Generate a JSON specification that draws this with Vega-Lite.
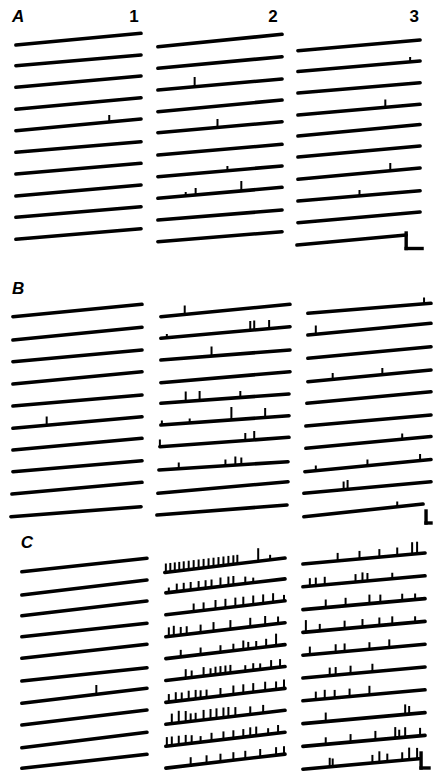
{
  "$schema": "https://vega.github.io/schema/vega-lite/v6.json",
  "width": 434,
  "height": 774,
  "padding": 0,
  "autosize": {"type": "fit", "contains": "padding"},
  "background": "white",
  "config": {"view": {"stroke": null}},
  "datasets": {
    "traces": [
      {"p":"A1","t":1,"x":16,"x2":142,"y":45,"y2":33.3},
      {"p":"A1","t":2,"x":16,"x2":142,"y":65.7,"y2":55},
      {"p":"A1","t":3,"x":16,"x2":142,"y":87.3,"y2":76},
      {"p":"A1","t":4,"x":16,"x2":142,"y":109.3,"y2":97.7},
      {"p":"A1","t":5,"x":16,"x2":142,"y":130.7,"y2":119},
      {"p":"A1","t":6,"x":16,"x2":142,"y":152.3,"y2":141.7},
      {"p":"A1","t":7,"x":16,"x2":142,"y":174,"y2":163.3},
      {"p":"A1","t":8,"x":16,"x2":142,"y":196,"y2":185},
      {"p":"A1","t":9,"x":16,"x2":142,"y":217.3,"y2":206.7},
      {"p":"A1","t":10,"x":16,"x2":142,"y":239.3,"y2":228.7},
      {"p":"A2","t":1,"x":159,"x2":284,"y":46.7,"y2":34.3},
      {"p":"A2","t":2,"x":159,"x2":284,"y":68.3,"y2":56.7},
      {"p":"A2","t":3,"x":159,"x2":284,"y":90,"y2":79},
      {"p":"A2","t":4,"x":159,"x2":284,"y":111.7,"y2":100},
      {"p":"A2","t":5,"x":159,"x2":284,"y":132.7,"y2":121.7},
      {"p":"A2","t":6,"x":159,"x2":284,"y":155,"y2":144.3},
      {"p":"A2","t":7,"x":159,"x2":284,"y":176.7,"y2":166},
      {"p":"A2","t":8,"x":159,"x2":284,"y":198.3,"y2":187.3},
      {"p":"A2","t":9,"x":159,"x2":284,"y":220,"y2":210},
      {"p":"A2","t":10,"x":159,"x2":284,"y":241.7,"y2":231.7},
      {"p":"A3","t":1,"x":300,"x2":423,"y":50.7,"y2":40},
      {"p":"A3","t":2,"x":300,"x2":423,"y":71.5,"y2":61},
      {"p":"A3","t":3,"x":300,"x2":423,"y":93,"y2":82.7},
      {"p":"A3","t":4,"x":300,"x2":423,"y":115,"y2":104.3},
      {"p":"A3","t":5,"x":300,"x2":423,"y":136,"y2":124.5},
      {"p":"A3","t":6,"x":300,"x2":423,"y":157,"y2":146},
      {"p":"A3","t":7,"x":300,"x2":423,"y":179.3,"y2":168},
      {"p":"A3","t":8,"x":300,"x2":423,"y":201,"y2":190.7},
      {"p":"A3","t":9,"x":300,"x2":423,"y":222.7,"y2":212},
      {"p":"A3","t":10,"x":299,"x2":409,"y":245,"y2":235},
      {"p":"B1","t":1,"x":13,"x2":143,"y":316.7,"y2":304.3},
      {"p":"B1","t":2,"x":13,"x2":143,"y":340,"y2":327.3},
      {"p":"B1","t":3,"x":13,"x2":143,"y":361.7,"y2":350},
      {"p":"B1","t":4,"x":13,"x2":143,"y":384,"y2":371.7},
      {"p":"B1","t":5,"x":13,"x2":143,"y":406,"y2":395},
      {"p":"B1","t":6,"x":13,"x2":143,"y":428.3,"y2":416.7},
      {"p":"B1","t":7,"x":13,"x2":143,"y":450,"y2":438.3},
      {"p":"B1","t":8,"x":13,"x2":143,"y":471.7,"y2":460.7},
      {"p":"B1","t":9,"x":12,"x2":143,"y":494,"y2":482.3},
      {"p":"B1","t":10,"x":11,"x2":142,"y":516.7,"y2":506.7},
      {"p":"B2","t":1,"x":162,"x2":292,"y":316.7,"y2":304.3},
      {"p":"B2","t":2,"x":162,"x2":292,"y":338.3,"y2":326.7},
      {"p":"B2","t":3,"x":162,"x2":292,"y":360,"y2":350},
      {"p":"B2","t":4,"x":162,"x2":292,"y":382.7,"y2":371.7},
      {"p":"B2","t":5,"x":162,"x2":291,"y":403.3,"y2":394},
      {"p":"B2","t":6,"x":162,"x2":291,"y":425,"y2":415.7},
      {"p":"B2","t":7,"x":161,"x2":291,"y":446.7,"y2":437.3},
      {"p":"B2","t":8,"x":160,"x2":290,"y":470,"y2":461.7},
      {"p":"B2","t":9,"x":159,"x2":290,"y":493.3,"y2":481.7},
      {"p":"B2","t":10,"x":158,"x2":289,"y":515,"y2":505},
      {"p":"B3","t":1,"x":310,"x2":434,"y":313.3,"y2":303.3},
      {"p":"B3","t":2,"x":310,"x2":434,"y":335,"y2":323.3},
      {"p":"B3","t":3,"x":310,"x2":434,"y":358.3,"y2":346.7},
      {"p":"B3","t":4,"x":310,"x2":434,"y":381.7,"y2":370},
      {"p":"B3","t":5,"x":309,"x2":434,"y":403.3,"y2":391.7},
      {"p":"B3","t":6,"x":308,"x2":434,"y":426,"y2":415},
      {"p":"B3","t":7,"x":308,"x2":434,"y":448.3,"y2":436.5},
      {"p":"B3","t":8,"x":307,"x2":434,"y":471.7,"y2":459.5},
      {"p":"B3","t":9,"x":306,"x2":434,"y":493.3,"y2":481.7},
      {"p":"B3","t":10,"x":306,"x2":426,"y":516.7,"y2":504},
      {"p":"C1","t":1,"x":22,"x2":148,"y":571.7,"y2":558.3},
      {"p":"C1","t":2,"x":22,"x2":148,"y":595,"y2":580},
      {"p":"C1","t":3,"x":22,"x2":148,"y":615.7,"y2":601},
      {"p":"C1","t":4,"x":22,"x2":148,"y":636.7,"y2":623.3},
      {"p":"C1","t":5,"x":22,"x2":148,"y":658.3,"y2":644.3},
      {"p":"C1","t":6,"x":22,"x2":148,"y":681,"y2":667.7},
      {"p":"C1","t":7,"x":22,"x2":148,"y":703.3,"y2":688.3},
      {"p":"C1","t":8,"x":22,"x2":148,"y":725,"y2":710},
      {"p":"C1","t":9,"x":22,"x2":148,"y":747.7,"y2":732.3},
      {"p":"C1","t":10,"x":22,"x2":148,"y":768.3,"y2":754.3},
      {"p":"C2","t":1,"x":166,"x2":287,"y":572.5,"y2":558},
      {"p":"C2","t":2,"x":167,"x2":287,"y":592.9,"y2":578.9},
      {"p":"C2","t":3,"x":167,"x2":287,"y":614.8,"y2":600.8},
      {"p":"C2","t":4,"x":167,"x2":287,"y":636.7,"y2":622.7},
      {"p":"C2","t":5,"x":167,"x2":287,"y":658.6,"y2":644.6},
      {"p":"C2","t":6,"x":167,"x2":287,"y":680.5,"y2":666.5},
      {"p":"C2","t":7,"x":167,"x2":287,"y":702.4,"y2":688.4},
      {"p":"C2","t":8,"x":167,"x2":287,"y":724.3,"y2":710.3},
      {"p":"C2","t":9,"x":167,"x2":287,"y":746.2,"y2":732.2},
      {"p":"C2","t":10,"x":167,"x2":287,"y":768.1,"y2":754.1},
      {"p":"C3","t":1,"x":305,"x2":428,"y":564,"y2":553},
      {"p":"C3","t":2,"x":305,"x2":428,"y":586.8,"y2":575.8},
      {"p":"C3","t":3,"x":305,"x2":428,"y":609.6,"y2":598.6},
      {"p":"C3","t":4,"x":305,"x2":428,"y":632.4,"y2":621.4},
      {"p":"C3","t":5,"x":305,"x2":428,"y":655.2,"y2":644.2},
      {"p":"C3","t":6,"x":305,"x2":428,"y":678,"y2":667},
      {"p":"C3","t":7,"x":305,"x2":428,"y":700.8,"y2":689.8},
      {"p":"C3","t":8,"x":305,"x2":428,"y":723.6,"y2":712.6},
      {"p":"C3","t":9,"x":305,"x2":428,"y":746.4,"y2":735.4},
      {"p":"C3","t":10,"x":305,"x2":422,"y":769.2,"y2":758.7}
    ],
    "spikes": [
      {"x":110,"y":122,"y2":115},
      {"x":196,"y":86.7,"y2":77},
      {"x":219,"y":127.4,"y2":119},
      {"x":229,"y":170.7,"y2":166},
      {"x":187,"y":195.8,"y2":192},
      {"x":197,"y":195,"y2":188},
      {"x":243,"y":190.9,"y2":181},
      {"x":413,"y":62.3,"y2":57},
      {"x":388,"y":107.3,"y2":99.5},
      {"x":393,"y":170.5,"y2":163},
      {"x":362,"y":195.8,"y2":190},
      {"x":47,"y":425.3,"y2":416.5},
      {"x":186,"y":314.4,"y2":305.5},
      {"x":168,"y":337.8,"y2":334},
      {"x":252,"y":330.3,"y2":321},
      {"x":256,"y":329.9,"y2":320.5},
      {"x":271,"y":328.6,"y2":320},
      {"x":213,"y":356.1,"y2":346.5},
      {"x":187,"y":401.5,"y2":391.5},
      {"x":201,"y":400.5,"y2":391},
      {"x":242,"y":397.6,"y2":391},
      {"x":163,"y":425,"y2":420.5},
      {"x":191,"y":422.9,"y2":418.5},
      {"x":233,"y":419.9,"y2":407},
      {"x":267,"y":417.5,"y2":408},
      {"x":161,"y":446.7,"y2":439.5},
      {"x":247,"y":440.6,"y2":433},
      {"x":256,"y":439.9,"y2":431},
      {"x":180,"y":468.9,"y2":462.5},
      {"x":227,"y":465.9,"y2":459.5},
      {"x":237,"y":465.2,"y2":456.5},
      {"x":243,"y":464.8,"y2":457.5},
      {"x":427,"y":303.9,"y2":297.5},
      {"x":318,"y":334.2,"y2":325.5},
      {"x":335,"y":379.4,"y2":373},
      {"x":385,"y":374.6,"y2":368},
      {"x":405,"y":439.3,"y2":433.5},
      {"x":318,"y":470.9,"y2":465.5},
      {"x":370,"y":465.8,"y2":459.5},
      {"x":423,"y":460.6,"y2":454},
      {"x":346,"y":489.9,"y2":481.5},
      {"x":350,"y":489.6,"y2":480},
      {"x":400,"y":507,"y2":501.5},
      {"x":97,"y":694.4,"y2":685},
      {"x":167,"y":572.5,"y2":563.5},
      {"x":171.5,"y":571.95,"y2":562.95},
      {"x":176,"y":571.4,"y2":562.4},
      {"x":180.5,"y":570.9,"y2":561.9},
      {"x":185,"y":570.3,"y2":561.3},
      {"x":190,"y":569.7,"y2":560.7},
      {"x":195,"y":569.1,"y2":560.1},
      {"x":200,"y":568.5,"y2":559.5},
      {"x":205,"y":567.9,"y2":558.9},
      {"x":210,"y":567.3,"y2":558.3},
      {"x":215,"y":566.7,"y2":557.7},
      {"x":220,"y":566.1,"y2":557.1},
      {"x":225,"y":565.5,"y2":556.5},
      {"x":230,"y":564.9,"y2":555.9},
      {"x":235,"y":564.3,"y2":555.3},
      {"x":239,"y":563.8,"y2":554.8},
      {"x":260,"y":561.2,"y2":548.2},
      {"x":272,"y":559.8,"y2":554.8},
      {"x":170,"y":592.55,"y2":587.55},
      {"x":178,"y":591.6,"y2":583.6},
      {"x":185,"y":590.8,"y2":582.8},
      {"x":192,"y":590,"y2":582},
      {"x":200,"y":589.05,"y2":581.05},
      {"x":207,"y":588.2,"y2":580.2},
      {"x":213,"y":587.5,"y2":579.5},
      {"x":222,"y":586.5,"y2":577.5},
      {"x":230,"y":585.55,"y2":576.55},
      {"x":235,"y":585,"y2":576},
      {"x":247,"y":583.6,"y2":576.6},
      {"x":255,"y":582.6,"y2":577.6},
      {"x":195,"y":611.5,"y2":603.5},
      {"x":205,"y":610.4,"y2":602.4},
      {"x":217,"y":609,"y2":600},
      {"x":227,"y":607.8,"y2":598.8},
      {"x":237,"y":606.6,"y2":597.6},
      {"x":245,"y":605.7,"y2":596.7},
      {"x":255,"y":604.5,"y2":595.5},
      {"x":265,"y":603.4,"y2":594.4},
      {"x":275,"y":602.2,"y2":593.2},
      {"x":286,"y":600.9,"y2":594.9},
      {"x":170,"y":636.35,"y2":627.35},
      {"x":175,"y":635.8,"y2":625.8},
      {"x":182,"y":634.95,"y2":626.95},
      {"x":188,"y":634.25,"y2":626.25},
      {"x":202,"y":632.6,"y2":624.6},
      {"x":215,"y":631.1,"y2":622.1},
      {"x":232,"y":629.1,"y2":620.1},
      {"x":252,"y":626.8,"y2":617.8},
      {"x":267,"y":625,"y2":616},
      {"x":280,"y":623.5,"y2":616.5},
      {"x":182,"y":656.85,"y2":649.85},
      {"x":202,"y":654.5,"y2":647.5},
      {"x":222,"y":652.2,"y2":645.2},
      {"x":235,"y":650.7,"y2":643.7},
      {"x":245,"y":649.5,"y2":640.5},
      {"x":250,"y":648.9,"y2":641.9},
      {"x":258,"y":648,"y2":641},
      {"x":268,"y":646.8,"y2":638.8},
      {"x":278,"y":645.65,"y2":633.65},
      {"x":187,"y":678.2,"y2":669.2},
      {"x":193,"y":677.5,"y2":670.5},
      {"x":205,"y":676.1,"y2":667.1},
      {"x":212,"y":675.25,"y2":668.25},
      {"x":217,"y":674.7,"y2":666.7},
      {"x":222,"y":674.1,"y2":666.1},
      {"x":227,"y":673.5,"y2":665.5},
      {"x":232,"y":672.9,"y2":664.9},
      {"x":247,"y":671.2,"y2":665.2},
      {"x":255,"y":670.2,"y2":663.2},
      {"x":262,"y":669.4,"y2":663.4},
      {"x":273,"y":668.1,"y2":660.1},
      {"x":282,"y":667.1,"y2":659.1},
      {"x":170,"y":702.05,"y2":694.05},
      {"x":177,"y":701.2,"y2":692.2},
      {"x":183,"y":700.5,"y2":692.5},
      {"x":190,"y":699.7,"y2":690.7},
      {"x":197,"y":698.9,"y2":689.9},
      {"x":202,"y":698.3,"y2":690.3},
      {"x":208,"y":697.6,"y2":689.6},
      {"x":222,"y":696,"y2":688},
      {"x":235,"y":694.5,"y2":685.5},
      {"x":245,"y":693.3,"y2":684.3},
      {"x":255,"y":692.1,"y2":683.1},
      {"x":267,"y":690.7,"y2":681.7},
      {"x":278,"y":689.45,"y2":681.45},
      {"x":286,"y":688.5,"y2":679.5},
      {"x":173,"y":723.6,"y2":713.6},
      {"x":180,"y":722.8,"y2":710.8},
      {"x":187,"y":722,"y2":711},
      {"x":192,"y":721.4,"y2":713.4},
      {"x":197,"y":720.8,"y2":712.8},
      {"x":205,"y":719.9,"y2":709.9},
      {"x":212,"y":719.05,"y2":709.05},
      {"x":218,"y":718.35,"y2":708.35},
      {"x":225,"y":717.5,"y2":707.5},
      {"x":230,"y":716.95,"y2":706.95},
      {"x":237,"y":716.1,"y2":707.1},
      {"x":252,"y":714.4,"y2":706.4},
      {"x":265,"y":712.9,"y2":704.9},
      {"x":168,"y":746.1,"y2":737.1},
      {"x":173,"y":745.5,"y2":736.5},
      {"x":180,"y":744.7,"y2":735.7},
      {"x":187,"y":743.9,"y2":734.9},
      {"x":193,"y":743.2,"y2":735.2},
      {"x":202,"y":742.1,"y2":736.1},
      {"x":213,"y":740.8,"y2":732.8},
      {"x":225,"y":739.4,"y2":731.4},
      {"x":235,"y":738.3,"y2":730.3},
      {"x":245,"y":737.1,"y2":729.1},
      {"x":252,"y":736.3,"y2":727.3},
      {"x":258,"y":735.6,"y2":726.6},
      {"x":270,"y":734.2,"y2":728.2},
      {"x":280,"y":733,"y2":725},
      {"x":192,"y":765.2,"y2":757.2},
      {"x":208,"y":763.3,"y2":755.3},
      {"x":222,"y":761.7,"y2":753.7},
      {"x":235,"y":760.2,"y2":752.2},
      {"x":247,"y":758.8,"y2":750.8},
      {"x":262,"y":757,"y2":749},
      {"x":278,"y":755.15,"y2":747.15},
      {"x":286,"y":754.2,"y2":746.2},
      {"x":340,"y":560.9,"y2":552.9},
      {"x":362,"y":558.9,"y2":550.9},
      {"x":382,"y":557.1,"y2":549.1},
      {"x":400,"y":555.5,"y2":547.5},
      {"x":415,"y":554.2,"y2":542.2},
      {"x":420,"y":553.7,"y2":541.7},
      {"x":312,"y":586.2,"y2":578.2},
      {"x":318,"y":585.6,"y2":577.6},
      {"x":327,"y":584.8,"y2":576.8},
      {"x":358,"y":582.1,"y2":574.1},
      {"x":365,"y":581.4,"y2":572.4},
      {"x":370,"y":581,"y2":573},
      {"x":395,"y":578.75,"y2":572.75},
      {"x":328,"y":607.5,"y2":599.5},
      {"x":348,"y":605.8,"y2":597.8},
      {"x":372,"y":603.6,"y2":594.6},
      {"x":383,"y":602.6,"y2":594.6},
      {"x":405,"y":600.7,"y2":593.7},
      {"x":418,"y":599.5,"y2":593.5},
      {"x":308,"y":632.1,"y2":620.1},
      {"x":322,"y":630.9,"y2":623.9},
      {"x":347,"y":628.65,"y2":620.65},
      {"x":365,"y":627.05,"y2":619.05},
      {"x":382,"y":625.5,"y2":617.5},
      {"x":395,"y":624.35,"y2":616.35},
      {"x":418,"y":622.3,"y2":616.3},
      {"x":312,"y":654.6,"y2":646.6},
      {"x":338,"y":652.25,"y2":644.25},
      {"x":347,"y":651.45,"y2":643.45},
      {"x":372,"y":649.2,"y2":642.2},
      {"x":392,"y":647.4,"y2":639.4},
      {"x":332,"y":675.6,"y2":667.6},
      {"x":338,"y":675.05,"y2":667.05},
      {"x":353,"y":673.7,"y2":665.7},
      {"x":375,"y":671.75,"y2":663.75},
      {"x":318,"y":699.6,"y2":691.6},
      {"x":327,"y":698.8,"y2":689.8},
      {"x":337,"y":697.9,"y2":689.9},
      {"x":352,"y":696.6,"y2":688.6},
      {"x":372,"y":694.8,"y2":685.8},
      {"x":328,"y":721.55,"y2":712.55},
      {"x":408,"y":714.4,"y2":704.4},
      {"x":412,"y":714,"y2":706},
      {"x":328,"y":744.3,"y2":737.3},
      {"x":353,"y":742.1,"y2":734.1},
      {"x":378,"y":739.9,"y2":730.9},
      {"x":398,"y":738.1,"y2":727.1},
      {"x":402,"y":737.7,"y2":729.7},
      {"x":408,"y":737.2,"y2":727.2},
      {"x":423,"y":735.85,"y2":727.85},
      {"x":332,"y":766.8,"y2":757.8},
      {"x":335,"y":766.5,"y2":758.5},
      {"x":375,"y":762.9,"y2":754.9},
      {"x":382,"y":762.3,"y2":751.3},
      {"x":390,"y":761.6,"y2":753.6},
      {"x":405,"y":760.3,"y2":752.3},
      {"x":412,"y":759.6,"y2":747.6},
      {"x":420,"y":758.9,"y2":747.9}
    ],
    "bars": [
      {"s":"A","x":409,"x2":409,"y":233,"y2":248.5},
      {"s":"A","x":409,"x2":425,"y":248.5,"y2":248.5},
      {"s":"B","x":429,"x2":429,"y":511,"y2":523},
      {"s":"B","x":429,"x2":434,"y":523,"y2":523},
      {"s":"C","x":424,"x2":424,"y":753,"y2":768},
      {"s":"C","x":424,"x2":432,"y":768,"y2":768}
    ],
    "letters": [
      {"t":"A","x":12,"y":22},
      {"t":"B","x":12,"y":294},
      {"t":"C","x":21,"y":548}
    ],
    "numbers": [
      {"t":"1","x":135,"y":22},
      {"t":"2","x":275,"y":22},
      {"t":"3","x":417,"y":22}
    ]
  },
  "layer": [
    {
      "data": {"name": "traces"},
      "mark": {"type": "rule", "color": "black", "strokeWidth": 3.6, "strokeCap": "round"},
      "encoding": {
        "x": {"field": "x", "type": "quantitative", "scale": {"domain": [0, 434], "nice": false, "zero": false}, "axis": null},
        "y": {"field": "y", "type": "quantitative", "scale": {"domain": [0, 774], "nice": false, "zero": false, "reverse": true}, "axis": null},
        "x2": {"field": "x2"},
        "y2": {"field": "y2"}
      }
    },
    {
      "data": {"name": "spikes"},
      "mark": {"type": "rule", "color": "black", "strokeWidth": 2},
      "encoding": {
        "x": {"field": "x", "type": "quantitative"},
        "y": {"field": "y", "type": "quantitative"},
        "y2": {"field": "y2"}
      }
    },
    {
      "data": {"name": "bars"},
      "mark": {"type": "rule", "color": "black", "strokeWidth": 3.4, "strokeCap": "square"},
      "encoding": {
        "x": {"field": "x", "type": "quantitative"},
        "y": {"field": "y", "type": "quantitative"},
        "x2": {"field": "x2"},
        "y2": {"field": "y2"}
      }
    },
    {
      "data": {"name": "letters"},
      "mark": {"type": "text", "font": "Liberation Sans", "fontSize": 17, "fontWeight": "bold", "fontStyle": "italic", "align": "left", "baseline": "alphabetic", "color": "black"},
      "encoding": {
        "x": {"field": "x", "type": "quantitative"},
        "y": {"field": "y", "type": "quantitative"},
        "text": {"field": "t"}
      }
    },
    {
      "data": {"name": "numbers"},
      "mark": {"type": "text", "font": "Liberation Sans", "fontSize": 17, "fontWeight": "bold", "align": "center", "baseline": "alphabetic", "color": "black"},
      "encoding": {
        "x": {"field": "x", "type": "quantitative"},
        "y": {"field": "y", "type": "quantitative"},
        "text": {"field": "t"}
      }
    }
  ]
}
